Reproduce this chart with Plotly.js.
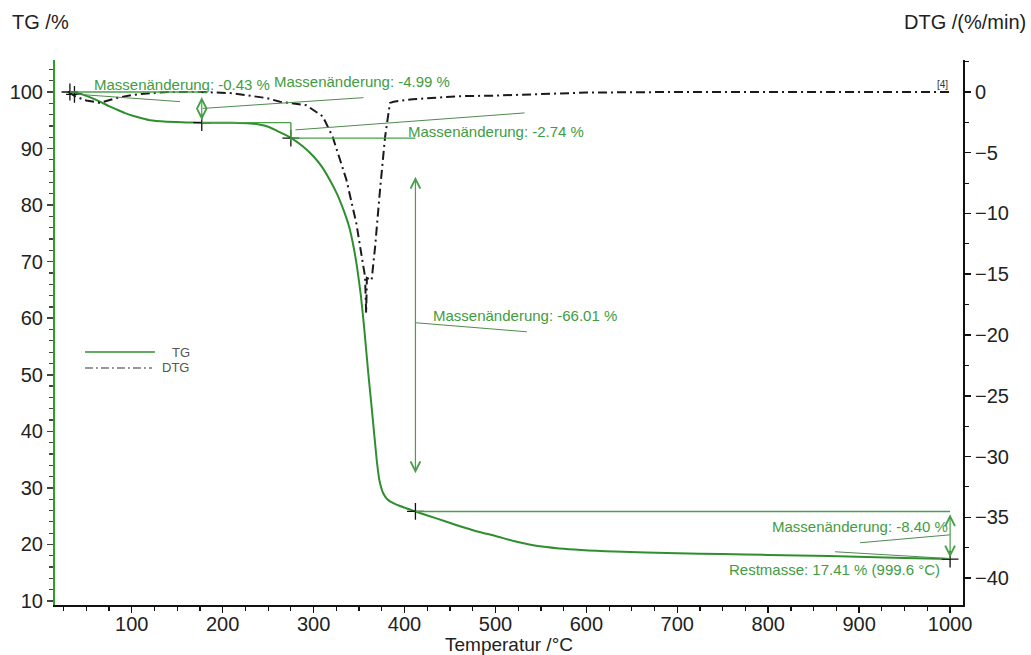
<!DOCTYPE html>
<html>
<head>
<meta charset="utf-8">
<script src="https://cdn.plot.ly/plotly-3.0.1.min.js"></script>
<style>html,body{margin:0;padding:0;background:#fff;}#chart{width:1031px;height:655px;}</style>
</head>
<body>
<div id="chart"></div>
<script>
// ---- Data ----
const tgTemp = [30, 33, 40, 47, 55, 65, 75, 83.5, 92, 102, 111, 120, 138.5, 160, 177, 211, 230, 240, 250, 259.5, 268, 276, 288, 300, 309, 318, 326, 333, 339, 344, 348, 352, 355.5, 360.3, 364, 369.5, 372.3, 376.7, 381, 387.7, 395, 412, 435, 457.5, 480, 500, 520, 540, 570, 631, 700, 749, 800, 867, 950, 1000];
const tgValue = [100, 100, 99.8, 99.5, 99.0, 98.3, 97.5, 96.9, 96.3, 95.75, 95.35, 95.0, 94.75, 94.62, 94.58, 94.55, 94.45, 94.25, 93.85, 93.15, 92.5, 91.8, 90.4, 88.6, 86.8, 84.4, 81.9, 79.1, 76.2, 72.6, 68.8, 64.0, 58.5, 50.0, 44.0, 34.8, 31.4, 29.0, 28.0, 27.3, 26.8, 25.83, 24.6, 23.4, 22.3, 21.5, 20.6, 19.9, 19.3, 18.75, 18.45, 18.3, 18.15, 17.95, 17.6, 17.41];

const dtgTemp = [30, 35, 39, 50, 65, 83, 100, 120, 140, 175, 210, 248, 263, 274, 292, 310, 321, 336, 347, 354.8, 356.6, 357.8, 358.6, 363.8, 367.7, 373, 378.6, 384, 388, 409, 431, 460, 500, 550, 600, 700, 800, 900, 1000];
const dtgValue = [0, -0.2, -0.4, -0.7, -0.9, -0.5, -0.25, -0.1, 0, 0, -0.1, -0.5, -0.8, -0.9, -1.1, -2.0, -3.7, -7.2, -10.8, -14.4, -15.2, -18.2, -15.3, -15.5, -12.7, -8.1, -3.7, -0.9, -0.8, -0.6, -0.5, -0.35, -0.3, -0.15, -0.05, 0, 0, 0, 0];

// step evaluation points (temperature, TG level)
const stepTemp = [32, 37, 177, 275, 412, 1000];
const stepTG = [100, 99.57, 94.58, 91.84, 25.83, 17.41];

const massLabels = ["Massenänderung: -0.43 %", "Massenänderung: -4.99 %", "Massenänderung: -2.74 %", "Massenänderung: -66.01 %", "Massenänderung: -8.40 %"];
const restLabel = "Restmasse: 17.41 % (999.6 °C)";

const xTickVals = [100, 200, 300, 400, 500, 600, 700, 800, 900, 1000];
const yTickVals = [10, 20, 30, 40, 50, 60, 70, 80, 90, 100];
const y2TickVals = [0, -5, -10, -15, -20, -25, -30, -35, -40];

// ---- Styles ----
const FONT = "Liberation Sans, Arial, sans-serif";
const GREEN_LINE = "#2f8f2f";
const GREEN_AXIS = "#2aa02a";
const GREEN_ANN = "#3f9c3f";
const GREEN_THIN = "#48a048";
const LEADER = "#4f8a4f";

const traces = [
  {x: dtgTemp, y: dtgValue, yaxis: 'y2', type: 'scatter', mode: 'lines', name: 'DTG',
   line: {color: '#1a1a1a', width: 2, dash: '9px,4px,2px,4px'}, showlegend: false, hoverinfo: 'skip'},
  {x: tgTemp, y: tgValue, yaxis: 'y', type: 'scatter', mode: 'lines', name: 'TG',
   line: {color: GREEN_LINE, width: 2, shape: 'spline', smoothing: 0.4}, showlegend: false},
  {x: stepTemp, y: stepTG, yaxis: 'y', type: 'scatter', mode: 'markers', name: 'marks',
   marker: {symbol: 'cross-thin-open', size: 12, color: '#111', line: {color: '#111', width: 1.3}}, showlegend: false, hoverinfo: 'skip'}
];

function seg(x0, y0, x1, y1, color, width, extra) {
  return Object.assign({type: 'line', xref: 'x', yref: 'y', x0: x0, y0: y0, x1: x1, y1: y1,
    line: {color: color, width: width}}, extra || {});
}

const T = stepTemp, L = stepTG;
const shapes = [
  seg(T[0], L[0], T[2], L[0], GREEN_THIN, 1.4),
  seg(40, 99.6, 153, 98.3, LEADER, 1),
  seg(T[2], L[2], T[3], L[2], GREEN_THIN, 1.4),
  seg(T[3], L[2], T[3], L[3] - 0.4, GREEN_THIN, 1.4),
  seg(T[3], L[3], T[4], L[3], GREEN_THIN, 1.4),
  seg(178, 97.1, 354.8, 99.0, LEADER, 1),
  seg(280, 93.3, 532, 96.3, LEADER, 1),
  seg(T[4], 59.2, 534.5, 57.6, LEADER, 1),
  seg(T[4], L[4], T[5], L[4], GREEN_THIN, 1.4),
  seg(901, 20.3, 1000, 21.7, LEADER, 1),
  seg(873.5, 18.7, 1000, 17.5, LEADER, 1),
  // legend samples
  {type: 'line', xref: 'paper', yref: 'paper', x0: 0.033, x1: 0.110, y0: 0.4642, y1: 0.4642, line: {color: GREEN_LINE, width: 1.6}},
  {type: 'line', xref: 'paper', yref: 'paper', x0: 0.033, x1: 0.1068, y0: 0.4349, y1: 0.4349, line: {color: '#777', width: 1.6, dash: '8px,3px,2px,3px'}}
];

function dbl(x, yTop, yBot) {
  return {x: x, y: yBot, ax: x, ay: yTop, xref: 'x', yref: 'y', axref: 'x', ayref: 'y', text: '',
    showarrow: true, arrowhead: 5, startarrowhead: 5, arrowside: 'end+start', arrowsize: 1.6,
    startarrowsize: 1.6, arrowwidth: 1.2, arrowcolor: GREEN_THIN, standoff: 0, startstandoff: 0};
}
function lbl(text, x, y, anchor) {
  return {x: x, y: y, xref: 'x', yref: 'y', text: text, showarrow: false, xanchor: anchor || 'center',
    yanchor: 'middle', font: {family: FONT, size: 15, color: GREEN_ANN}};
}

const annotations = [
  dbl(T[2], 99.4, 95.0),
  dbl(T[4], 85.3, 32.6),
  dbl(T[5], 25.6, 17.7),
  lbl(massLabels[0], 155.3, 101.4),
  lbl(massLabels[1], 353, 101.8),
  lbl(massLabels[2], 501, 93.1),
  lbl(massLabels[3], 533, 60.4),
  lbl(massLabels[4], 1000, 23.1, 'right'),
  lbl(restLabel, 991, 15.6, 'right'),
  {x: 1000, y: 101.3, xref: 'x', yref: 'y', text: '[4]', showarrow: false, xanchor: 'right', yanchor: 'middle',
   font: {family: FONT, size: 10, color: '#333'}},
  {x: -0.0496, y: 1.0697, xref: 'paper', yref: 'paper', text: 'TG /%', showarrow: false, xanchor: 'left', yanchor: 'middle',
   font: {family: FONT, size: 20, color: '#222'}},
  {x: 1.0716, y: 1.0697, xref: 'paper', yref: 'paper', text: 'DTG /(%/min)', showarrow: false, xanchor: 'right', yanchor: 'middle',
   font: {family: FONT, size: 20, color: '#222'}},
  {x: 0.5, y: -0.0716, xref: 'paper', yref: 'paper', text: 'Temperatur /°C', showarrow: false, xanchor: 'center', yanchor: 'middle',
   font: {family: FONT, size: 19, color: '#222'}},
  {x: 0.1267, y: 0.4642, xref: 'paper', yref: 'paper', text: 'TG', showarrow: false, xanchor: 'left', yanchor: 'middle',
   font: {family: FONT, size: 13, color: '#555'}},
  {x: 0.1156, y: 0.4349, xref: 'paper', yref: 'paper', text: 'DTG', showarrow: false, xanchor: 'left', yanchor: 'middle',
   font: {family: FONT, size: 13, color: '#555'}}
];

const tickFont = {family: FONT, size: 20, color: '#222'};

const layout = {
  width: 1031, height: 655,
  margin: {l: 55, r: 68, t: 60, b: 50, pad: 0},
  paper_bgcolor: '#fff', plot_bgcolor: '#fff',
  font: {family: FONT},
  showlegend: false,
  xaxis: {
    range: [15.6, 1014.2], tickmode: 'array', tickvals: xTickVals,
    showgrid: false, zeroline: false, showline: true, linecolor: '#111', linewidth: 2,
    ticks: 'outside', ticklen: 6, tickwidth: 1.5, tickcolor: '#111', ticklabelstandoff: -6,
    minor: {dtick: 25, tick0: 0, ticks: 'outside', ticklen: 4, tickcolor: '#111', tickwidth: 1.2, showgrid: false},
    tickfont: tickFont
  },
  yaxis: {
    range: [9.29, 105.66], tickmode: 'array', tickvals: yTickVals,
    showgrid: false, zeroline: false, showline: true, linecolor: GREEN_AXIS, linewidth: 2,
    ticks: 'outside', ticklen: 6, tickwidth: 1.5, tickcolor: '#444',
    minor: {dtick: 2, tick0: 0, ticks: 'outside', ticklen: 4, tickcolor: '#444', tickwidth: 1.2, showgrid: false},
    tickfont: tickFont
  },
  yaxis2: {
    overlaying: 'y', side: 'right', anchor: 'x',
    range: [-42.22, 2.63], tickmode: 'array', tickvals: y2TickVals,
    showgrid: false, zeroline: false, showline: true, linecolor: '#111', linewidth: 2,
    ticks: 'outside', ticklen: 6, tickwidth: 1.5, tickcolor: '#111',
    minor: {dtick: 2.5, tick0: 0, ticks: 'outside', ticklen: 4, tickcolor: '#111', tickwidth: 1.2, showgrid: false},
    tickfont: tickFont
  },
  shapes: shapes,
  annotations: annotations
};

Plotly.newPlot('chart', traces, layout, {displayModeBar: false, staticPlot: true});
</script>
</body>
</html>
